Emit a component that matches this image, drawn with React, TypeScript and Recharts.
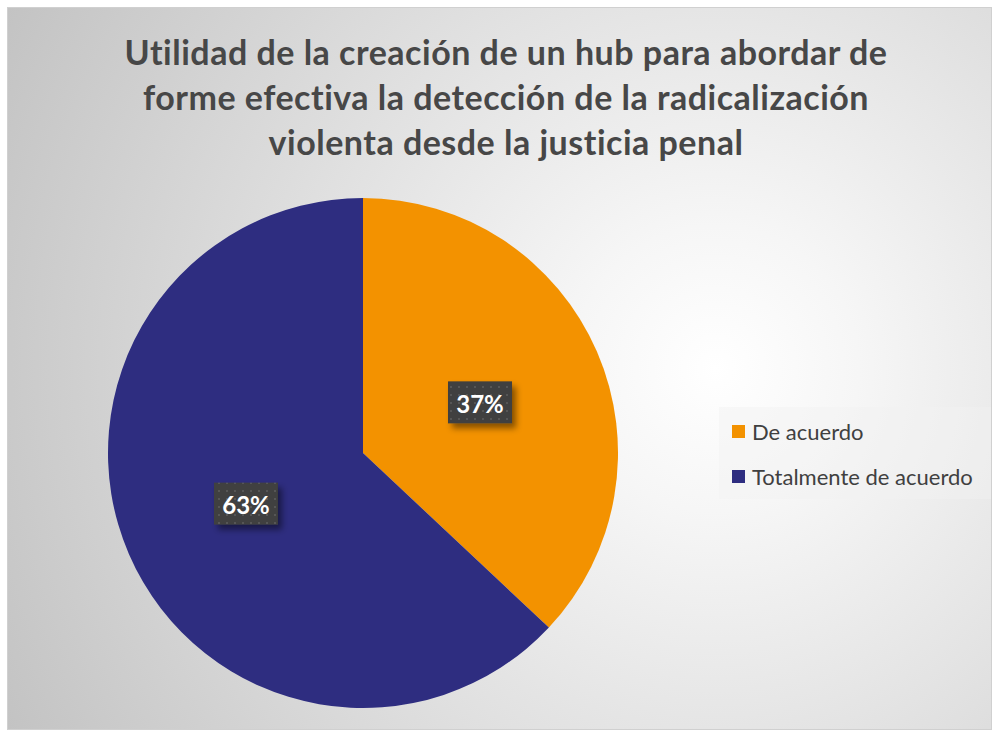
import { PieChart, Pie, Cell, Legend } from 'recharts'

const categories = ['De acuerdo', 'Totalmente de acuerdo']
const values = [37, 63]
const colors = ['#F39200', '#2E2D80']
const titleLines = [
  'Utilidad de la creación de un hub para abordar de',
  'forme efectiva la detección de la radicalización',
  'violenta desde la justicia penal',
]

const data = categories.map((name, i) => ({ name, value: values[i] }))
const RAD = Math.PI / 180
const font = 'Lato, "Open Sans", sans-serif'

function renderLabel(p: any) {
  const r = p.outerRadius * 0.5
  const x = p.cx + r * Math.cos(-p.midAngle * RAD)
  const y = p.cy + r * Math.sin(-p.midAngle * RAD)
  const w = 64
  const h = 42
  return (
    <g>
      <rect x={x - w / 2} y={y - h / 2} width={w} height={h} fill="url(#dots)" filter="url(#boxShadow)" />
      <text x={x} y={y + 1} fill="#ffffff" fontSize={24} fontWeight={700} fontFamily={font} textAnchor="middle" dominantBaseline="central">
        {Math.round(p.percent * 100)}%
      </text>
    </g>
  )
}

function LegendBox() {
  return (
    <div style={{ width: 272, height: 92, background: 'rgba(242,242,242,0.45)', boxSizing: 'border-box', paddingTop: 2, paddingLeft: 13 }}>
      {data.map((d, i) => (
        <div key={d.name} style={{ display: 'flex', alignItems: 'center', height: 45, fontFamily: font, fontSize: 22, color: '#404040' }}>
          <span style={{ width: 13, height: 13, background: colors[i], marginRight: 7, display: 'inline-block' }} />
          {d.name}
        </div>
      ))}
    </div>
  )
}

export default function App() {
  return (
    <div
      style={{
        position: 'absolute',
        left: 7,
        top: 7,
        width: 985,
        height: 723,
        boxSizing: 'border-box',
        border: '1px solid #d0d0d0',
        background: 'radial-gradient(circle farthest-corner at 72% 50%, #ffffff 0%, #f6f6f6 18%, #c3c3c3 100%)',
        overflow: 'hidden',
      }}
    >
      <div
        style={{
          position: 'absolute',
          left: 0,
          top: 21,
          width: 996,
          textAlign: 'center',
          fontFamily: font,
          fontWeight: 700,
          fontSize: 34,
          letterSpacing: 0.5,
          lineHeight: '45px',
          color: '#474747',
        }}
      >
        {titleLines.map(l => (
          <div key={l}>{l}</div>
        ))}
      </div>
      <PieChart
        width={985}
        height={723}
        margin={{ top: 0, right: 0, bottom: 0, left: 0 }}
        style={{ position: 'absolute', left: -1, top: -1 }}
      >
        <defs>
          <pattern id="dots" width="8" height="8" patternUnits="userSpaceOnUse">
            <rect width="8" height="8" fill="#3f3f3f" />
            <rect x="3" y="3" width="2" height="2" fill="#575757" />
          </pattern>
          <filter id="boxShadow" x="-30%" y="-30%" width="160%" height="170%">
            <feDropShadow dx="4" dy="5" stdDeviation="3" floodColor="#000" floodOpacity="0.45" />
          </filter>
        </defs>
        <Pie
          data={data}
          dataKey="value"
          nameKey="name"
          cx={356}
          cy={446}
          outerRadius={255}
          startAngle={90}
          endAngle={-270}
          stroke="none"
          label={renderLabel}
          labelLine={false}
          isAnimationActive={false}
        >
          {data.map((d, i) => (
            <Cell key={d.name} fill={colors[i]} />
          ))}
        </Pie>
        <Legend
          content={() => <LegendBox />}
          layout="vertical"
          wrapperStyle={{ position: 'absolute', left: 712, top: 400, width: 272, height: 92 }}
        />
      </PieChart>
    </div>
  )
}
